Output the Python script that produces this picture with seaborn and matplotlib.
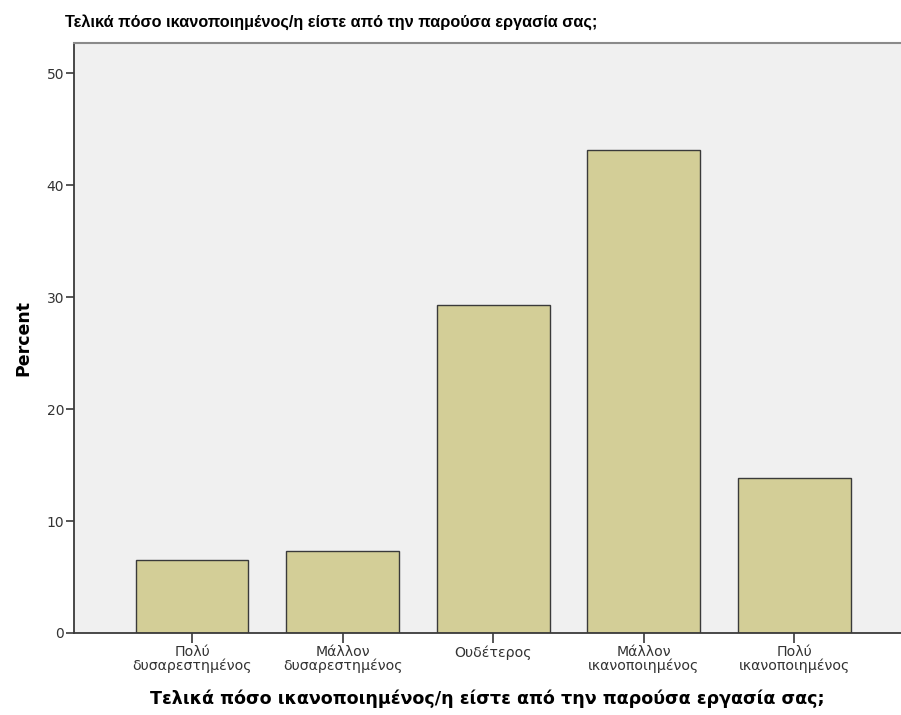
import matplotlib
matplotlib.use("Agg")
import matplotlib.pyplot as plt
import seaborn as sns
import pandas as pd

categories = ["Πολύ\nδυσαρεστημένος", "Μάλλον\nδυσαρεστημένος", "Ουδέτερος",
              "Μάλλον\nικανοποιημένος", "Πολύ\nικανοποιημένος"]
percent = [6.5, 7.3, 29.3, 43.1, 13.8]
yticks = [0, 10, 20, 30, 40, 50]
title = "Τελικά πόσο ικανοποιημένος/η είστε από την παρούσα εργασία σας;"

sns.set_style("white")
plt.rcParams['font.family'] = ['Liberation Sans', 'DejaVu Sans']

df = pd.DataFrame({"cat": categories, "pct": percent})

fig = plt.figure(figsize=(9.01, 7.15), dpi=100)
ax = fig.add_axes([74/901, (715-633)/715, (901-74)/901, (633-43)/715])
ax.set_facecolor("#F0F0F0")

sns.barplot(data=df, x="cat", y="pct", ax=ax, color="#D3CE97", saturation=1,
            width=0.75, edgecolor="#3A3A3A", linewidth=1.0)

ax.set_xlim(-0.784, 4.71)
ax.set_ylim(0, 52.68)
ax.set_yticks(yticks)
ax.tick_params(axis="y", direction="out", length=6, width=1.2, color="#3A3A3A",
               labelsize=10, labelcolor="#333333", pad=1, left=True)
ax.tick_params(axis="x", direction="out", length=7, width=1.2, color="#3A3A3A",
               labelsize=10.2, labelcolor="#333333", pad=2, bottom=True)
for lab in ax.get_xticklabels():
    lab.set_linespacing(0.9)
    lab.set_fontfamily(["DejaVu Sans"])
for lab in ax.get_yticklabels():
    lab.set_fontfamily(["DejaVu Sans"])

for s in ["left", "bottom"]:
    ax.spines[s].set_color("#3A3A3A")
    ax.spines[s].set_linewidth(1.3)
ax.spines["top"].set_color("#8A8A8A")
ax.spines["top"].set_linewidth(1.5)
ax.spines["right"].set_visible(False)

ax.set_ylabel("Percent", fontsize=12.5, fontweight="bold", labelpad=10,
              family=["DejaVu Sans"], color="black")
ax.set_xlabel(title, fontsize=12.6, fontweight="bold", labelpad=12,
              family=["DejaVu Sans"], color="black")
fig.text(65/901, 1 - 22/715, title, fontsize=11.7, fontweight="bold",
         ha="left", va="center", color="black")

fig.savefig("out.png", dpi=100)
